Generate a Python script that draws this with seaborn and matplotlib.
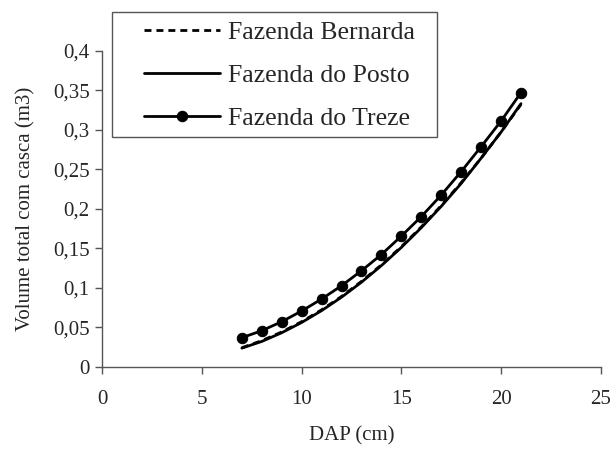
import matplotlib
matplotlib.use("Agg")
import matplotlib.pyplot as plt
from matplotlib.patches import Rectangle
import seaborn as sns
import pandas as pd

# DAP (cm) and volume (m3)
dap = [7, 8, 9, 10, 11, 12, 13, 14, 15, 16, 17, 18, 19, 20, 21]
bernarda = [0.024, 0.033, 0.044, 0.057, 0.072, 0.089, 0.108, 0.129,
            0.152, 0.177, 0.204, 0.233, 0.264, 0.297, 0.332]
posto = [0.0235, 0.032, 0.043, 0.056, 0.071, 0.088, 0.107, 0.128,
         0.151, 0.176, 0.203, 0.232, 0.264, 0.297, 0.333]
treze = [0.0367, 0.0456, 0.057, 0.0705, 0.0857, 0.1025, 0.1215, 0.142,
         0.1654, 0.19, 0.2173, 0.247, 0.2785, 0.311, 0.347]

x_ticks = [0, 5, 10, 15, 20, 25]
y_ticks = [0, 0.05, 0.1, 0.15, 0.2, 0.25, 0.3, 0.35, 0.4]
y_labels = ["0", "0,05", "0,1", "0,15", "0,2", "0,25", "0,3", "0,35", "0,4"]

df = pd.DataFrame({"DAP": dap, "Bernarda": bernarda, "Posto": posto, "Treze": treze})

sns.set_style("white")
plt.rcParams['font.family'] = ['Liberation Serif', 'DejaVu Serif']

W, H = 610, 449
fig = plt.figure(figsize=(W / 100, H / 100), dpi=100)
ax = fig.add_axes([0.1677, 0.1833, 0.8171, 0.7037])

sns.lineplot(data=df, x="DAP", y="Bernarda", ax=ax, color="black",
             linestyle=(0, (2.5, 1.8)), linewidth=2, label="Fazenda Bernarda")
sns.lineplot(data=df, x="DAP", y="Posto", ax=ax, color="black",
             linewidth=2, label="Fazenda do Posto")
sns.lineplot(data=df, x="DAP", y="Treze", ax=ax, color="black",
             linewidth=2, marker="o", markersize=7.5, markeredgecolor="black",
             label="Fazenda do Treze")

ax.set_xlim(0, 25)
ax.set_ylim(0, 0.4)
ax.set_xticks(x_ticks)
ax.set_xticklabels([str(t) for t in x_ticks])
ax.set_yticks(y_ticks)
ax.set_yticklabels(y_labels)
ax.tick_params(axis="both", direction="out", length=5, width=1,
               color="#555555", labelsize=15, pad=4, left=True, bottom=True)
ax.tick_params(axis="x", pad=12)

for side in ["top", "right"]:
    ax.spines[side].set_visible(False)
for side in ["left", "bottom"]:
    ax.spines[side].set_color("#555555")
    ax.spines[side].set_linewidth(1)

ax.set_xlabel("DAP (cm)", fontsize=15, labelpad=12)
ax.set_ylabel("Volume total com casca (m3)", fontsize=15, labelpad=13)

# legend: frameless entries plus a plain box drawn on the figure
ax.get_legend().remove()
handles, labels = ax.get_legend_handles_labels()
leg = fig.legend(handles, labels, loc="upper left",
                 bbox_to_anchor=(144 / W, 1 - 21 / H),
                 fontsize=18.5, frameon=False, handlelength=2.95,
                 handletextpad=0.3, labelspacing=0.78, borderpad=0,
                 borderaxespad=0)
fig.patches.append(Rectangle((111.7 / W, 1 - 137.3 / H), 325.6 / W, 125.6 / H,
                             transform=fig.transFigure, fill=False,
                             edgecolor="#555555", linewidth=1))

plt.savefig("out.png", dpi=100)
